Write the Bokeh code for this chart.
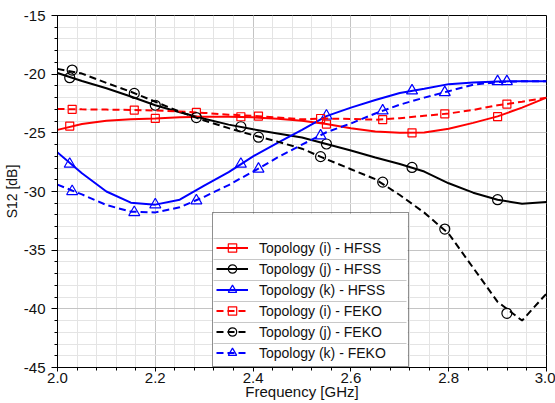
from bokeh.plotting import figure
from bokeh.models import Legend, LegendItem, FixedTicker, Range1d
from bokeh.embed import file_html
from bokeh.resources import INLINE

# ---------------- data ----------------
freq = [2.00, 2.05, 2.10, 2.15, 2.20, 2.25, 2.30, 2.35, 2.40, 2.45, 2.50,
        2.55, 2.60, 2.65, 2.70, 2.75, 2.80, 2.85, 2.90, 2.95, 3.00]

i_hfss = [-24.75, -24.25, -23.98, -23.85, -23.77, -23.68, -23.62, -23.62, -23.68, -23.80, -23.97,
          -24.25, -24.60, -24.88, -25.00, -24.98, -24.65, -24.15, -23.60, -22.85, -22.00]
j_hfss = [-19.90, -20.58, -21.20, -21.90, -22.65, -23.25, -23.80, -24.30, -24.70, -25.05, -25.40,
          -25.95, -26.50, -27.10, -27.65, -28.30, -29.30, -30.10, -30.70, -31.05, -30.90]
k_hfss = [-26.67, -28.45, -30.00, -30.95, -31.12, -30.70, -29.50, -28.35, -27.00, -25.85, -24.75,
          -23.58, -22.85, -22.20, -21.60, -21.25, -20.85, -20.70, -20.62, -20.60, -20.60]
i_feko = [-22.97, -23.00, -23.02, -23.05, -23.10, -23.18, -23.30, -23.45, -23.55, -23.70, -23.85,
          -23.78, -23.82, -23.88, -23.75, -23.55, -23.35, -23.05, -22.65, -22.35, -22.00]
j_feko = [-19.55, -19.95, -20.75, -21.50, -22.35, -23.20, -23.95, -24.60, -25.20, -25.75, -26.35,
          -27.25, -28.10, -28.95, -30.30, -31.80, -33.60, -36.50, -39.40, -41.00, -38.70]
k_feko = [-29.42, -30.25, -31.15, -31.72, -31.78, -31.35, -30.45, -29.45, -28.30, -27.10, -26.00,
          -24.95, -24.20, -23.35, -22.60, -22.00, -21.45, -20.90, -20.68, -20.60, -20.60]

mk_freq_hfss = [2.025, 2.200, 2.375, 2.550, 2.725, 2.900]
mk_i_hfss = [-24.42, -23.77, -23.63, -24.25, -25.00, -23.62]
mk_j_hfss = [-20.30, -22.65, -24.48, -25.95, -27.95, -30.70]
mk_k_hfss = [-27.66, -31.12, -27.66, -23.55, -21.41, -20.62]

mk_freq_feko = [2.030, 2.157, 2.284, 2.411, 2.538, 2.665, 2.792, 2.919]
mk_i_feko = [-23.00, -23.06, -23.26, -23.57, -23.78, -23.88, -23.38, -22.55]
mk_j_feko = [-19.65, -21.64, -23.70, -25.37, -27.03, -29.20, -33.20, -40.38]
mk_k_feko = [-29.99, -31.78, -30.78, -28.08, -25.25, -23.12, -21.56, -20.62]

labels = ["Topology (i) - HFSS", "Topology (j) - HFSS", "Topology (k) - HFSS",
          "Topology (i) - FEKO", "Topology (j) - FEKO", "Topology (k) - FEKO"]

x_ticks = [2.0, 2.2, 2.4, 2.6, 2.8, 3.0]
x_tick_labels = ["2.0", "2.2", "2.4", "2.6", "2.8", "3.0"]
y_ticks = [-45, -40, -35, -30, -25, -20, -15]
y_tick_labels = ["-45", "-40", "-35", "-30", "-25", "-20", "-15"]

# ---------------- layout ----------------
FONT = "Liberation Sans"
X0, X1, Y0, Y1 = 2.0, 3.0, -45.0, -15.0
FW, FH = 489, 352  # frame size in px
ML, MR, MT, MB = 57, 9, 15, 36

p = figure(width=ML + FW + MR, height=MT + FH + MB,
           x_range=Range1d(X0, X1), y_range=Range1d(Y0, Y1),
           output_backend="svg", toolbar_location=None,
           min_border_left=ML, min_border_right=MR,
           min_border_top=MT, min_border_bottom=MB)
p.background_fill_color = None
p.border_fill_color = "white"
p.outline_line_color = "black"
p.outline_line_width = 1

x_minor = [round(X0 + 0.04 * k, 3) for k in range(26)]
y_minor = [float(v) for v in range(-45, -14)]
p.xaxis.ticker = FixedTicker(ticks=x_ticks, minor_ticks=x_minor)
p.yaxis.ticker = FixedTicker(ticks=y_ticks, minor_ticks=y_minor)
p.xaxis.major_label_overrides = dict(zip(x_ticks, x_tick_labels))
p.yaxis.major_label_overrides = dict(zip(y_ticks, y_tick_labels))

for g in (p.xgrid, p.ygrid):
    g.grid_line_color = "#c4c4c4"
    g.grid_line_alpha = 1.0
    g.grid_line_width = 1
    g.minor_grid_line_color = "#e4e4e4"
    g.minor_grid_line_alpha = 1.0
    g.minor_grid_line_width = 1
    g.level = "image"

for ax in (p.xaxis, p.yaxis):
    ax.axis_line_color = "black"
    ax.axis_line_width = 1
    ax.major_tick_line_color = "black"
    ax.minor_tick_line_color = "black"
    ax.major_tick_in = 0
    ax.minor_tick_in = 0
    ax.major_label_text_font = FONT
    ax.major_label_text_color = "#111111"
    ax.major_label_text_font_size = "15px"
    ax.axis_label_text_font = FONT
    ax.axis_label_text_font_style = "normal"
    ax.axis_label_text_color = "#111111"

p.xaxis.major_tick_out = 4
p.xaxis.minor_tick_out = 3
p.xaxis.major_label_standoff = 1
p.xaxis.axis_label = "Frequency [GHz]"
p.xaxis.axis_label_text_font_size = "15px"
p.xaxis.axis_label_standoff = -3

p.yaxis.major_tick_out = 6
p.yaxis.minor_tick_out = 3
p.yaxis.major_label_standoff = 6
p.yaxis.axis_label = "S12 [dB]"
p.yaxis.axis_label_text_font_size = "14px"
p.yaxis.axis_label_standoff = 1

# ---------------- series ----------------
series = [
    (i_hfss, mk_freq_hfss, mk_i_hfss, "red", "solid", "square", 8),
    (j_hfss, mk_freq_hfss, mk_j_hfss, "black", "solid", "circle", 10),
    (k_hfss, mk_freq_hfss, mk_k_hfss, "blue", "solid", "triangle", 11),
    (i_feko, mk_freq_feko, mk_i_feko, "red", "7 4", "square", 8),
    (j_feko, mk_freq_feko, mk_j_feko, "black", "7 4", "circle", 10),
    (k_feko, mk_freq_feko, mk_k_feko, "blue", "7 4", "triangle", 11),
]

renderers = []
for (ys, mx, my, col, dash, mk, sz) in series:
    lr = p.line(freq, ys, line_color=col, line_width=2, line_dash=dash)
    sr = p.scatter(mx, my, marker=mk, size=sz, fill_color=None,
                   line_color=col, line_width=1.2)
    renderers.append([lr, sr])

# ---------------- legend box (white panel + row separators) ----------------
PAD, GW, GH, LSO, LW = 3, 32, 21, 11, 146
LEG_X = 155  # px from frame left
n_rows = len(labels) + 1  # first row of the box is empty
leg_w = 2 * PAD + GW + LSO + LW
leg_h = 2 * PAD + n_rows * GH

def px_x(px):
    return X0 + px * (X1 - X0) / FW

def px_y(px_from_bottom):
    return Y0 + px_from_bottom * (Y1 - Y0) / FH

p.quad(left=[px_x(LEG_X)], right=[px_x(LEG_X + leg_w)],
       bottom=[Y0], top=[px_y(leg_h)],
       fill_color="white", line_color=None)
sep_y = [px_y(PAD + k * GH) for k in range(1, n_rows)]
p.segment(x0=[px_x(LEG_X + 1)] * len(sep_y), x1=[px_x(LEG_X + leg_w - 1)] * len(sep_y),
          y0=sep_y, y1=sep_y, line_color="#c8c8c8", line_width=1)

blank = p.line([], [], line_alpha=0)
items = [LegendItem(label=" ", renderers=[blank])]
for rs, lab in zip(renderers, labels):
    items.append(LegendItem(label=lab, renderers=rs))

legend = Legend(items=items, location=(LEG_X, 0), orientation="vertical",
                padding=PAD, margin=0, spacing=0,
                glyph_width=GW, glyph_height=GH, label_height=GH,
                label_width=LW, label_standoff=LSO,
                label_text_font=FONT, label_text_font_size="14px",
                label_text_color="#111111",
                border_line_color="#222222", border_line_width=1,
                background_fill_alpha=0.0)
p.add_layout(legend)

open("out.html", "w").write(file_html(p, INLINE))
